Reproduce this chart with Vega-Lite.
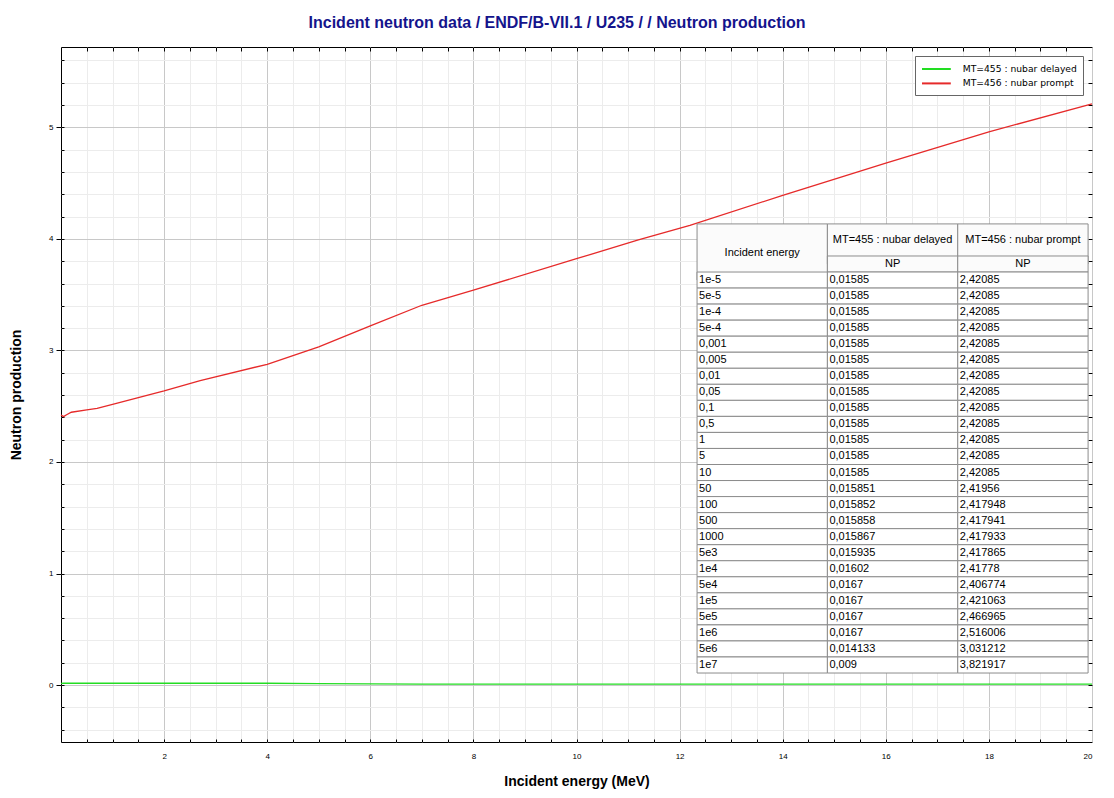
{
  "$schema": "https://vega.github.io/schema/vega-lite/v6.json",
  "width": 1031,
  "height": 695,
  "autosize": {"type": "none"},
  "padding": {"left": 61, "top": 47, "right": 22, "bottom": 56},
  "background": "white",
  "config": {
    "view": {"stroke": "black", "strokeWidth": 1},
    "font": "Liberation Sans",
    "axis": {
      "domain": false,
      "labelFont": "Liberation Sans",
      "labelFontSize": 8,
      "labelColor": "black",
      "titleFont": "Liberation Sans",
      "titleFontSize": 14,
      "titleFontWeight": "bold",
      "titleColor": "black",
      "tickColor": "black"
    }
  },
  "title": {
    "text": "Incident neutron data / ENDF/B-VII.1 / U235 / / Neutron production",
    "color": "#14148c",
    "font": "Liberation Sans",
    "fontSize": 16,
    "fontWeight": "bold",
    "anchor": "middle",
    "frame": "group",
    "offset": 16,
    "dx": -19.5
  },
  "datasets": {
    "curves": [
      {"E": 0.00001, "v": 2.42085, "s": "MT=456 : nubar prompt"},
      {"E": 0.05, "v": 2.406774, "s": "MT=456 : nubar prompt"},
      {"E": 0.1, "v": 2.421063, "s": "MT=456 : nubar prompt"},
      {"E": 0.2, "v": 2.446, "s": "MT=456 : nubar prompt"},
      {"E": 0.5, "v": 2.466965, "s": "MT=456 : nubar prompt"},
      {"E": 0.7, "v": 2.48, "s": "MT=456 : nubar prompt"},
      {"E": 1, "v": 2.516006, "s": "MT=456 : nubar prompt"},
      {"E": 2, "v": 2.637, "s": "MT=456 : nubar prompt"},
      {"E": 2.7, "v": 2.73, "s": "MT=456 : nubar prompt"},
      {"E": 4, "v": 2.876, "s": "MT=456 : nubar prompt"},
      {"E": 5, "v": 3.031212, "s": "MT=456 : nubar prompt"},
      {"E": 6, "v": 3.22, "s": "MT=456 : nubar prompt"},
      {"E": 7, "v": 3.405, "s": "MT=456 : nubar prompt"},
      {"E": 8, "v": 3.54, "s": "MT=456 : nubar prompt"},
      {"E": 10, "v": 3.821917, "s": "MT=456 : nubar prompt"},
      {"E": 11.2, "v": 3.99, "s": "MT=456 : nubar prompt"},
      {"E": 12.2, "v": 4.12, "s": "MT=456 : nubar prompt"},
      {"E": 14, "v": 4.39, "s": "MT=456 : nubar prompt"},
      {"E": 16, "v": 4.68, "s": "MT=456 : nubar prompt"},
      {"E": 18, "v": 4.96, "s": "MT=456 : nubar prompt"},
      {"E": 20, "v": 5.21, "s": "MT=456 : nubar prompt"},
      {"E": 0.00001, "v": 0.01585, "s": "MT=455 : nubar delayed"},
      {"E": 0.01, "v": 0.01602, "s": "MT=455 : nubar delayed"},
      {"E": 0.05, "v": 0.0167, "s": "MT=455 : nubar delayed"},
      {"E": 1, "v": 0.0167, "s": "MT=455 : nubar delayed"},
      {"E": 4, "v": 0.0167, "s": "MT=455 : nubar delayed"},
      {"E": 5, "v": 0.014133, "s": "MT=455 : nubar delayed"},
      {"E": 7, "v": 0.009, "s": "MT=455 : nubar delayed"},
      {"E": 10, "v": 0.009, "s": "MT=455 : nubar delayed"},
      {"E": 20, "v": 0.009, "s": "MT=455 : nubar delayed"}
    ],
    "table": [
      {"E": "1e-5", "d": "0,01585", "p": "2,42085"},
      {"E": "5e-5", "d": "0,01585", "p": "2,42085"},
      {"E": "1e-4", "d": "0,01585", "p": "2,42085"},
      {"E": "5e-4", "d": "0,01585", "p": "2,42085"},
      {"E": "0,001", "d": "0,01585", "p": "2,42085"},
      {"E": "0,005", "d": "0,01585", "p": "2,42085"},
      {"E": "0,01", "d": "0,01585", "p": "2,42085"},
      {"E": "0,05", "d": "0,01585", "p": "2,42085"},
      {"E": "0,1", "d": "0,01585", "p": "2,42085"},
      {"E": "0,5", "d": "0,01585", "p": "2,42085"},
      {"E": "1", "d": "0,01585", "p": "2,42085"},
      {"E": "5", "d": "0,01585", "p": "2,42085"},
      {"E": "10", "d": "0,01585", "p": "2,42085"},
      {"E": "50", "d": "0,015851", "p": "2,41956"},
      {"E": "100", "d": "0,015852", "p": "2,417948"},
      {"E": "500", "d": "0,015858", "p": "2,417941"},
      {"E": "1000", "d": "0,015867", "p": "2,417933"},
      {"E": "5e3", "d": "0,015935", "p": "2,417865"},
      {"E": "1e4", "d": "0,01602", "p": "2,41778"},
      {"E": "5e4", "d": "0,0167", "p": "2,406774"},
      {"E": "1e5", "d": "0,0167", "p": "2,421063"},
      {"E": "5e5", "d": "0,0167", "p": "2,466965"},
      {"E": "1e6", "d": "0,0167", "p": "2,516006"},
      {"E": "5e6", "d": "0,014133", "p": "3,031212"},
      {"E": "1e7", "d": "0,009", "p": "3,821917"}
    ],
    "header": [
      {"col": "E", "lvl": 1, "val": "Incident energy"},
      {"col": "d", "lvl": 1, "val": "MT=455 : nubar delayed"},
      {"col": "p", "lvl": 1, "val": "MT=456 : nubar prompt"},
      {"col": "d", "lvl": 2, "val": "NP"},
      {"col": "p", "lvl": 2, "val": "NP"}
    ]
  },
  "layer": [
    {
      "data": {"name": "curves"},
      "layer": [
        {
          "mark": {"type": "line", "strokeOpacity": 0},
          "encoding": {
            "x": {
              "field": "E", "type": "quantitative",
              "scale": {"domain": [0, 20], "nice": false, "zero": false},
              "axis": {
                "orient": "bottom",
                "values": [0.5, 1, 1.5, 2, 2.5, 3, 3.5, 4, 4.5, 5, 5.5, 6, 6.5, 7, 7.5, 8, 8.5, 9, 9.5, 10, 10.5, 11, 11.5, 12, 12.5, 13, 13.5, 14, 14.5, 15, 15.5, 16, 16.5, 17, 17.5, 18, 18.5, 19, 19.5],
                "grid": true, "gridColor": "#ececec",
                "labels": false, "tickSize": -3, "title": null
              }
            },
            "y": {
              "field": "v", "type": "quantitative",
              "scale": {"domain": [-0.51, 5.72], "nice": false, "zero": false},
              "axis": {
                "orient": "left",
                "values": [-0.4, -0.2, 0, 0.2, 0.4, 0.6, 0.8, 1, 1.2, 1.4, 1.6, 1.8, 2, 2.2, 2.4, 2.6, 2.8, 3, 3.2, 3.4, 3.6, 3.8, 4, 4.2, 4.4, 4.6, 4.8, 5, 5.2, 5.4, 5.6],
                "grid": true, "gridColor": "#ececec",
                "labels": false, "tickSize": -3, "title": null
              }
            }
          }
        },
        {
          "mark": {"type": "line", "strokeWidth": 1.3},
          "encoding": {
            "x": {
              "field": "E", "type": "quantitative",
              "scale": {"domain": [0, 20], "nice": false, "zero": false},
              "axis": {
                "orient": "bottom",
                "values": [2, 4, 6, 8, 10, 12, 14, 16, 18, 20],
                "grid": true, "gridColor": "#c8c8c8",
                "ticks": false, "labelPadding": 10,
                "title": "Incident energy (MeV)", "titlePadding": 14
              }
            },
            "y": {
              "field": "v", "type": "quantitative",
              "scale": {"domain": [-0.51, 5.72], "nice": false, "zero": false},
              "axis": {
                "orient": "left",
                "values": [0, 1, 2, 3, 4, 5],
                "grid": true, "gridColor": "#c8c8c8",
                "tickSize": 5, "labelPadding": 3,
                "title": "Neutron production", "titlePadding": 25
              }
            },
            "color": {
              "field": "s", "type": "nominal",
              "scale": {"domain": ["MT=455 : nubar delayed", "MT=456 : nubar prompt"], "range": ["#22dd22", "#e62a2a"]},
              "legend": {
                "orient": "top-right", "offset": 9, "title": null,
                "symbolType": "M-2.4,0H2.4", "symbolSize": 144, "symbolStrokeWidth": 2,
                "symbolOffset": 8.4,
                "labelFont": "DejaVu Sans", "labelFontSize": 9.2, "labelColor": "black",
                "labelOffset": 19.3, "labelLimit": 300,
                "strokeColor": "#666666", "fillColor": "white",
                "padding": 6, "rowPadding": 1.4
              }
            }
          }
        },
        {
          "mark": {"type": "line", "strokeOpacity": 0},
          "encoding": {
            "x": {
              "field": "E", "type": "quantitative",
              "scale": {"domain": [0, 20], "nice": false, "zero": false},
              "axis": {
                "orient": "top",
                "values": [0.5, 1, 1.5, 2, 2.5, 3, 3.5, 4, 4.5, 5, 5.5, 6, 6.5, 7, 7.5, 8, 8.5, 9, 9.5, 10, 10.5, 11, 11.5, 12, 12.5, 13, 13.5, 14, 14.5, 15, 15.5, 16, 16.5, 17, 17.5, 18, 18.5, 19, 19.5],
                "grid": false, "labels": false, "tickSize": -4, "title": null
              }
            },
            "y": {
              "field": "v", "type": "quantitative",
              "scale": {"domain": [-0.51, 5.72], "nice": false, "zero": false},
              "axis": {
                "orient": "right",
                "values": [-0.4, -0.2, 0, 0.2, 0.4, 0.6, 0.8, 1, 1.2, 1.4, 1.6, 1.8, 2, 2.2, 2.4, 2.6, 2.8, 3, 3.2, 3.4, 3.6, 3.8, 4, 4.2, 4.4, 4.6, 4.8, 5, 5.2, 5.4, 5.6],
                "grid": false, "labels": false, "tickSize": -4, "title": null
              }
            }
          }
        }
      ],
      "resolve": {"axis": {"x": "independent", "y": "independent"}}
    },
    {
      "layer": [
        {
          "data": {"name": "header"},
          "transform": [{"filter": "datum.col == 'E'"}],
          "mark": {"type": "rect", "fill": "#fbfbfb", "stroke": "#8c8c8c", "strokeWidth": 1},
          "encoding": {
            "x": {"field": "col", "type": "nominal", "scale": {"type": "band", "domain": ["_x1", "_x2", "_x3", "_x4", "E", "d", "p"], "paddingInner": 0, "paddingOuter": 0.455, "align": 0.967}, "axis": null},
            "y": {"datum": "h1", "type": "nominal", "bandPosition": 0, "scale": {"type": "band", "domain": ["_y1", "_y2", "_y3", "_y4", "_y5", "_y6", "_y7", "_y8", "_y9", "_y10", "h1", "hm", "h2", "1e-5", "5e-5", "1e-4", "5e-4", "0,001", "0,005", "0,01", "0,05", "0,1", "0,5", "1", "5", "10", "50", "100", "500", "1000", "5e3", "1e4", "5e4", "1e5", "5e5", "1e6", "5e6", "1e7", "_z1", "_z2", "_z3", "_z4"], "paddingInner": 0, "paddingOuter": 0.665, "align": 0.774}, "axis": null},
            "y2": {"datum": "1e-5"}
          }
        },
        {
          "data": {"name": "header"},
          "transform": [{"filter": "datum.col != 'E' && datum.lvl == 1"}],
          "mark": {"type": "rect", "fill": "#fbfbfb", "stroke": "#8c8c8c", "strokeWidth": 1},
          "encoding": {
            "x": {"field": "col", "type": "nominal", "scale": {"type": "band", "domain": ["_x1", "_x2", "_x3", "_x4", "E", "d", "p"], "paddingInner": 0, "paddingOuter": 0.455, "align": 0.967}, "axis": null},
            "y": {"datum": "h1", "type": "nominal", "bandPosition": 0, "scale": {"type": "band", "domain": ["_y1", "_y2", "_y3", "_y4", "_y5", "_y6", "_y7", "_y8", "_y9", "_y10", "h1", "hm", "h2", "1e-5", "5e-5", "1e-4", "5e-4", "0,001", "0,005", "0,01", "0,05", "0,1", "0,5", "1", "5", "10", "50", "100", "500", "1000", "5e3", "1e4", "5e4", "1e5", "5e5", "1e6", "5e6", "1e7", "_z1", "_z2", "_z3", "_z4"], "paddingInner": 0, "paddingOuter": 0.665, "align": 0.774}, "axis": null},
            "y2": {"datum": "h2"}
          }
        },
        {
          "data": {"name": "header"},
          "transform": [{"filter": "datum.lvl == 2"}],
          "mark": {"type": "rect", "fill": "#fbfbfb", "stroke": "#8c8c8c", "strokeWidth": 1},
          "encoding": {
            "x": {"field": "col", "type": "nominal", "scale": {"type": "band", "domain": ["_x1", "_x2", "_x3", "_x4", "E", "d", "p"], "paddingInner": 0, "paddingOuter": 0.455, "align": 0.967}, "axis": null},
            "y": {"datum": "h2", "type": "nominal", "scale": {"type": "band", "domain": ["_y1", "_y2", "_y3", "_y4", "_y5", "_y6", "_y7", "_y8", "_y9", "_y10", "h1", "hm", "h2", "1e-5", "5e-5", "1e-4", "5e-4", "0,001", "0,005", "0,01", "0,05", "0,1", "0,5", "1", "5", "10", "50", "100", "500", "1000", "5e3", "1e4", "5e4", "1e5", "5e5", "1e6", "5e6", "1e7", "_z1", "_z2", "_z3", "_z4"], "paddingInner": 0, "paddingOuter": 0.665, "align": 0.774}, "axis": null}
          }
        },
        {
          "data": {"name": "header"},
          "transform": [{"filter": "datum.col != 'E' && datum.lvl == 1"}],
          "mark": {"type": "text", "font": "Liberation Sans", "fontSize": 11, "color": "black", "baseline": "middle"},
          "encoding": {
            "x": {"field": "col", "type": "nominal", "scale": {"type": "band", "domain": ["_x1", "_x2", "_x3", "_x4", "E", "d", "p"], "paddingInner": 0, "paddingOuter": 0.455, "align": 0.967}, "axis": null},
            "y": {"datum": "hm", "type": "nominal", "bandPosition": 0, "scale": {"type": "band", "domain": ["_y1", "_y2", "_y3", "_y4", "_y5", "_y6", "_y7", "_y8", "_y9", "_y10", "h1", "hm", "h2", "1e-5", "5e-5", "1e-4", "5e-4", "0,001", "0,005", "0,01", "0,05", "0,1", "0,5", "1", "5", "10", "50", "100", "500", "1000", "5e3", "1e4", "5e4", "1e5", "5e5", "1e6", "5e6", "1e7", "_z1", "_z2", "_z3", "_z4"], "paddingInner": 0, "paddingOuter": 0.665, "align": 0.774}, "axis": null},
            "text": {"field": "val"}
          }
        },
        {
          "data": {"name": "header"},
          "transform": [{"filter": "datum.col == 'E'"}],
          "mark": {"type": "text", "font": "Liberation Sans", "fontSize": 11, "color": "black", "baseline": "middle"},
          "encoding": {
            "x": {"field": "col", "type": "nominal", "scale": {"type": "band", "domain": ["_x1", "_x2", "_x3", "_x4", "E", "d", "p"], "paddingInner": 0, "paddingOuter": 0.455, "align": 0.967}, "axis": null},
            "y": {"datum": "hm", "type": "nominal", "bandPosition": 0.8, "scale": {"type": "band", "domain": ["_y1", "_y2", "_y3", "_y4", "_y5", "_y6", "_y7", "_y8", "_y9", "_y10", "h1", "hm", "h2", "1e-5", "5e-5", "1e-4", "5e-4", "0,001", "0,005", "0,01", "0,05", "0,1", "0,5", "1", "5", "10", "50", "100", "500", "1000", "5e3", "1e4", "5e4", "1e5", "5e5", "1e6", "5e6", "1e7", "_z1", "_z2", "_z3", "_z4"], "paddingInner": 0, "paddingOuter": 0.665, "align": 0.774}, "axis": null},
            "text": {"field": "val"}
          }
        },
        {
          "data": {"name": "header"},
          "transform": [{"filter": "datum.lvl == 2"}],
          "mark": {"type": "text", "font": "Liberation Sans", "fontSize": 11, "color": "black", "baseline": "middle"},
          "encoding": {
            "x": {"field": "col", "type": "nominal", "scale": {"type": "band", "domain": ["_x1", "_x2", "_x3", "_x4", "E", "d", "p"], "paddingInner": 0, "paddingOuter": 0.455, "align": 0.967}, "axis": null},
            "y": {"datum": "h2", "type": "nominal", "scale": {"type": "band", "domain": ["_y1", "_y2", "_y3", "_y4", "_y5", "_y6", "_y7", "_y8", "_y9", "_y10", "h1", "hm", "h2", "1e-5", "5e-5", "1e-4", "5e-4", "0,001", "0,005", "0,01", "0,05", "0,1", "0,5", "1", "5", "10", "50", "100", "500", "1000", "5e3", "1e4", "5e4", "1e5", "5e5", "1e6", "5e6", "1e7", "_z1", "_z2", "_z3", "_z4"], "paddingInner": 0, "paddingOuter": 0.665, "align": 0.774}, "axis": null},
            "text": {"field": "val"}
          }
        },
        {
          "data": {"name": "table"},
          "transform": [{"fold": ["E", "d", "p"], "as": ["col", "val"]}],
          "mark": {"type": "rect", "fill": "white", "stroke": "#8c8c8c", "strokeWidth": 1},
          "encoding": {
            "x": {"field": "col", "type": "nominal", "scale": {"type": "band", "domain": ["_x1", "_x2", "_x3", "_x4", "E", "d", "p"], "paddingInner": 0, "paddingOuter": 0.455, "align": 0.967}, "axis": null},
            "y": {"field": "E", "type": "nominal", "scale": {"type": "band", "domain": ["_y1", "_y2", "_y3", "_y4", "_y5", "_y6", "_y7", "_y8", "_y9", "_y10", "h1", "hm", "h2", "1e-5", "5e-5", "1e-4", "5e-4", "0,001", "0,005", "0,01", "0,05", "0,1", "0,5", "1", "5", "10", "50", "100", "500", "1000", "5e3", "1e4", "5e4", "1e5", "5e5", "1e6", "5e6", "1e7", "_z1", "_z2", "_z3", "_z4"], "paddingInner": 0, "paddingOuter": 0.665, "align": 0.774}, "axis": null}
          }
        },
        {
          "data": {"name": "table"},
          "transform": [{"fold": ["E", "d", "p"], "as": ["col", "val"]}],
          "mark": {"type": "text", "font": "Liberation Sans", "fontSize": 11, "color": "black", "align": "left", "baseline": "middle", "dx": 2},
          "encoding": {
            "x": {"field": "col", "type": "nominal", "bandPosition": 0, "scale": {"type": "band", "domain": ["_x1", "_x2", "_x3", "_x4", "E", "d", "p"], "paddingInner": 0, "paddingOuter": 0.455, "align": 0.967}, "axis": null},
            "y": {"field": "E", "type": "nominal", "scale": {"type": "band", "domain": ["_y1", "_y2", "_y3", "_y4", "_y5", "_y6", "_y7", "_y8", "_y9", "_y10", "h1", "hm", "h2", "1e-5", "5e-5", "1e-4", "5e-4", "0,001", "0,005", "0,01", "0,05", "0,1", "0,5", "1", "5", "10", "50", "100", "500", "1000", "5e3", "1e4", "5e4", "1e5", "5e5", "1e6", "5e6", "1e7", "_z1", "_z2", "_z3", "_z4"], "paddingInner": 0, "paddingOuter": 0.665, "align": 0.774}, "axis": null},
            "text": {"field": "val"}
          }
        }
      ]
    }
  ],
  "resolve": {"scale": {"x": "independent", "y": "independent"}}
}
